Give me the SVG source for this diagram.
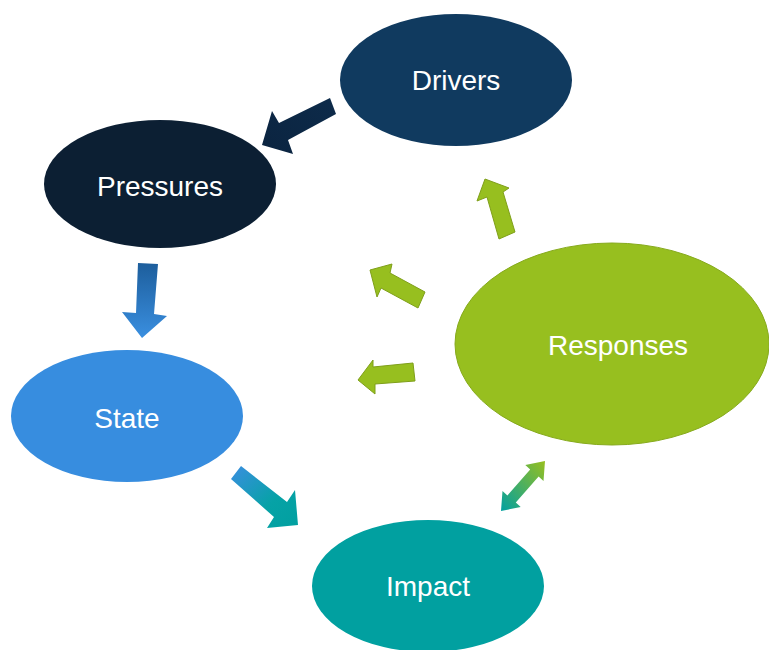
<svg xmlns="http://www.w3.org/2000/svg" width="769" height="650" viewBox="0 0 769 650">
  <style>
    .lbl { font-family: "Liberation Sans", Arial, sans-serif; font-size: 28px; fill: #ffffff; text-anchor: middle; }
    .green { fill: #97bf1f; stroke: #7f9f1a; stroke-width: 1; }
  </style>
  <defs>
    <linearGradient id="gNavy" x1="1" y1="0" x2="0" y2="1">
      <stop offset="0" stop-color="#0d2b4a"/>
      <stop offset="1" stop-color="#0b2440"/>
    </linearGradient>
    <linearGradient id="gBlue" x1="0" y1="0" x2="0" y2="1">
      <stop offset="0" stop-color="#1d5e9c"/>
      <stop offset="1" stop-color="#3a8fe0"/>
    </linearGradient>
    <linearGradient id="gTeal" x1="0" y1="0" x2="1" y2="1">
      <stop offset="0" stop-color="#3a8ee0"/>
      <stop offset="0.6" stop-color="#06a2a6"/>
      <stop offset="1" stop-color="#01a0a0"/>
    </linearGradient>
    <linearGradient id="gGT" x1="1" y1="0" x2="0" y2="1">
      <stop offset="0" stop-color="#97bf1f"/>
      <stop offset="1" stop-color="#01a0a0"/>
    </linearGradient>
  </defs>

  <g id="connectors">
    <polygon fill="url(#gNavy)" points="330,98 336,114 288,140 293,154 262,145 272,111 279,123"/>
    <polygon fill="url(#gBlue)" points="138,263 158,264 154,314 167,316 142,338 122,312 136,313"/>
    <polygon fill="url(#gTeal)" points="241,466 287,502 295,490 298,525 267,528 274,517 231,479"/>
    <polygon fill="url(#gGT)" points="545,461 543.5,481 538.6,476.6 515.8,502.6 520.7,507 501,511 502.5,491 507.4,495.4 530.2,469.4 525.3,465"/>
    <polygon class="green" points="485,179 509,188 503,192 515,232 499,239 487,197 477,201"/>
    <polygon class="green" points="370,270 392,264 390,273 425,292 418,308 381,288 377,297"/>
    <polygon class="green" points="358,380 373,360 373,367 413,363 415,381 375,384 375,394"/>
  </g>

  <g id="drivers">
    <ellipse cx="456" cy="80" rx="116" ry="66" fill="#103a5f"/>
    <text class="lbl" x="456" y="90">Drivers</text>
  </g>
  <g id="pressures">
    <ellipse cx="160" cy="184" rx="116" ry="64" fill="#0c1f33"/>
    <text class="lbl" x="160" y="196">Pressures</text>
  </g>
  <g id="state">
    <ellipse cx="127" cy="416" rx="116" ry="66" fill="#378ddf"/>
    <text class="lbl" x="127" y="428">State</text>
  </g>
  <g id="impact">
    <ellipse cx="428" cy="586" rx="116" ry="66" fill="#01a0a0"/>
    <text class="lbl" x="428" y="596">Impact</text>
  </g>
  <g id="responses">
    <ellipse cx="612" cy="344" rx="157" ry="101" fill="#97bf1f" stroke="#86aa1c" stroke-width="1"/>
    <text class="lbl" x="618" y="355">Responses</text>
  </g>
</svg>
